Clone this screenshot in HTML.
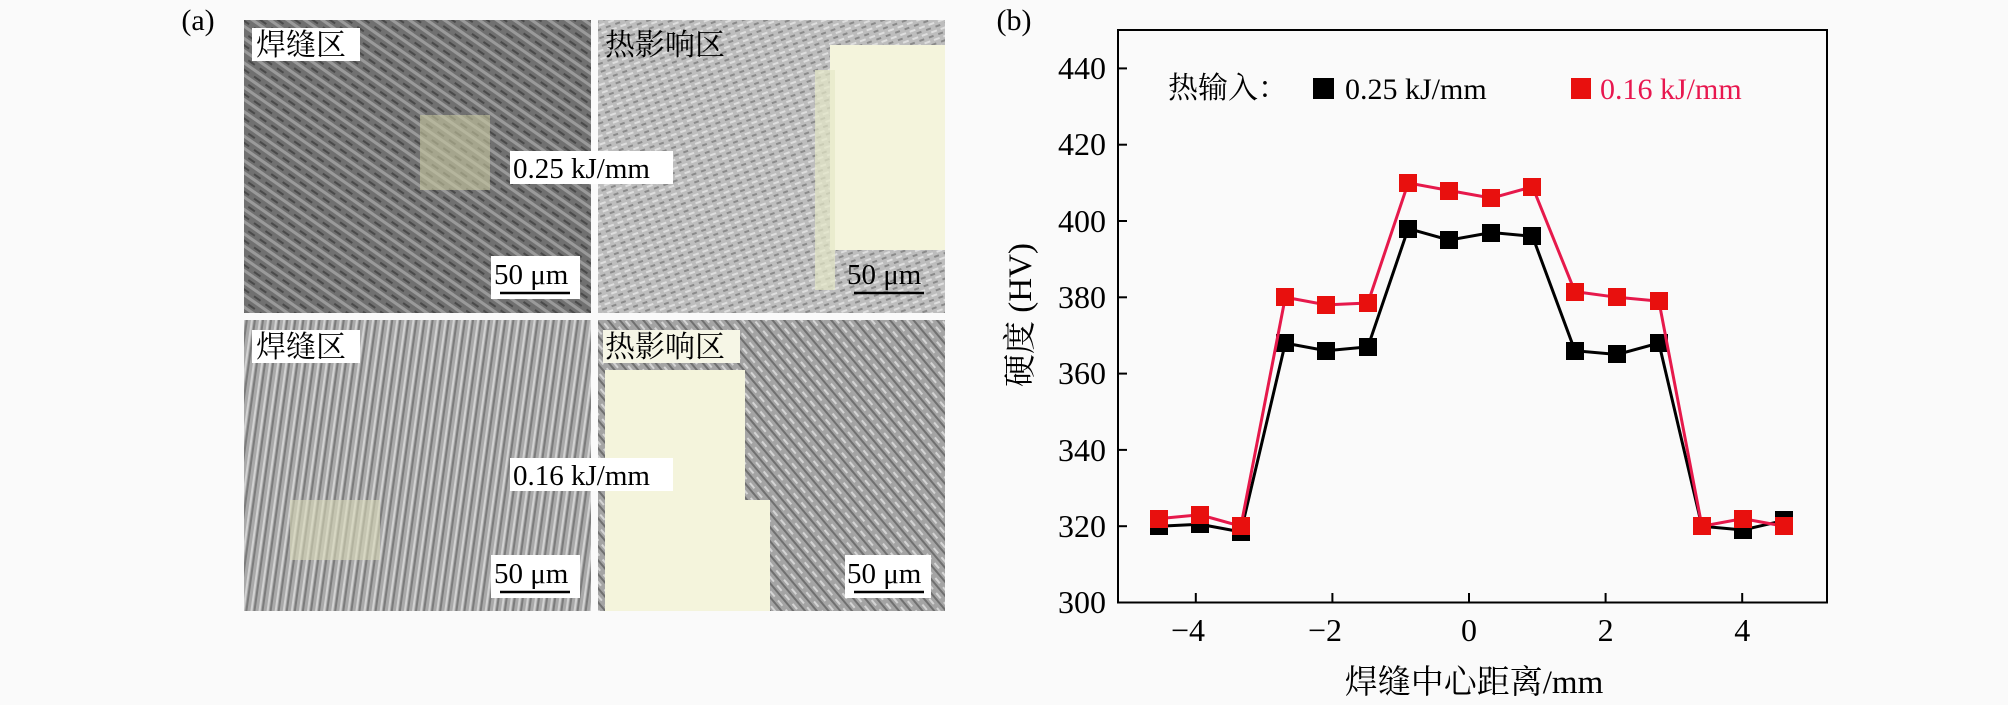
<!DOCTYPE html>
<html><head><meta charset="utf-8"><style>
html,body{margin:0;padding:0;background:#fafafa;}
svg{display:block;}
text{font-family:"Liberation Serif","Noto Serif CJK SC",serif;}
</style></head><body>
<svg width="2008" height="705" viewBox="0 0 2008 705" xmlns="http://www.w3.org/2000/svg">
<defs>
<pattern id="tex1" width="14" height="10" patternUnits="userSpaceOnUse" patternTransform="rotate(35)">
<rect width="14" height="10" fill="#707070"/><rect y="0" width="14" height="3" fill="#9a9a9a"/><rect y="6" width="8" height="2" fill="#4a4a4a"/></pattern>
<pattern id="tex2" width="10" height="8" patternUnits="userSpaceOnUse" patternTransform="rotate(-20)">
<rect width="10" height="8" fill="#bdbdbd"/><rect width="5" height="2" fill="#8a8a8a"/><rect x="4" y="4" width="6" height="2" fill="#dedede"/></pattern>
<pattern id="tex3" width="8" height="16" patternUnits="userSpaceOnUse" patternTransform="rotate(8)">
<rect width="8" height="16" fill="#a9a9a9"/><rect width="2" height="16" fill="#7c7c7c"/><rect x="5" width="2" height="16" fill="#d2d2d2"/></pattern>
<pattern id="tex4" width="12" height="9" patternUnits="userSpaceOnUse" patternTransform="rotate(50)">
<rect width="12" height="9" fill="#a4a4a4"/><rect width="12" height="2" fill="#707070"/><rect y="5" width="7" height="2" fill="#d4d4d4"/></pattern>
</defs>
<!-- panel a -->
<text x="198" y="30" font-size="30" text-anchor="middle">(a)</text>
<rect x="244" y="20" width="347" height="293" fill="url(#tex1)"/>
<rect x="598" y="20" width="347" height="293" fill="url(#tex2)"/>
<rect x="830" y="45" width="115" height="205" fill="#f4f4dc"/>
<rect x="815" y="70" width="20" height="220" fill="#e6e8c8" opacity="0.7"/>
<rect x="244" y="320" width="347" height="291" fill="url(#tex3)"/>
<rect x="598" y="320" width="347" height="291" fill="url(#tex4)"/>
<path d="M605 370 H745 V500 H770 V611 H605 Z" fill="#f4f4dc"/>
<rect x="420" y="115" width="70" height="75" fill="#c8c8a0" opacity="0.6"/>
<rect x="290" y="500" width="90" height="60" fill="#d8d8b8" opacity="0.6"/>
<!-- labels -->
<rect x="252" y="28" width="108" height="33" fill="#fff"/><text x="256" y="55" font-size="30">焊缝区</text>
<text x="605" y="55" font-size="30">热影响区</text>
<rect x="510" y="151" width="163" height="33" fill="#fff"/><text x="513" y="178" font-size="29">0.25 kJ/mm</text>
<rect x="491" y="256" width="89" height="43" fill="#fff"/><text x="494" y="284" font-size="29">50 μm</text><line x1="500" y1="293" x2="570" y2="293" stroke="#000" stroke-width="2.5"/>
<text x="847" y="284" font-size="29">50 μm</text><line x1="854" y1="293" x2="924" y2="293" stroke="#000" stroke-width="2.5"/>
<rect x="252" y="330" width="108" height="33" fill="#fff"/><text x="256" y="357" font-size="30">焊缝区</text>
<rect x="603" y="330" width="137" height="33" fill="#f6f6e6"/><text x="605" y="357" font-size="30">热影响区</text>
<rect x="510" y="458" width="163" height="33" fill="#fff"/><text x="513" y="485" font-size="29">0.16 kJ/mm</text>
<rect x="491" y="555" width="89" height="43" fill="#fff"/><text x="494" y="583" font-size="29">50 μm</text><line x1="500" y1="592" x2="570" y2="592" stroke="#000" stroke-width="2.5"/>
<rect x="845" y="555" width="86" height="43" fill="#fff"/><text x="847" y="583" font-size="29">50 μm</text><line x1="854" y1="592" x2="924" y2="592" stroke="#000" stroke-width="2.5"/>
<!-- panel b -->
<text x="1014" y="30" font-size="30" text-anchor="middle">(b)</text>
<rect x="1118" y="30" width="709" height="572.5" fill="none" stroke="#000" stroke-width="2"/>
<g stroke="#000" stroke-width="2">
<line x1="1118" y1="68.4" x2="1127" y2="68.4"/><line x1="1118" y1="144.7" x2="1127" y2="144.7"/><line x1="1118" y1="221" x2="1127" y2="221"/><line x1="1118" y1="297.3" x2="1127" y2="297.3"/><line x1="1118" y1="373.6" x2="1127" y2="373.6"/><line x1="1118" y1="449.9" x2="1127" y2="449.9"/><line x1="1118" y1="526.2" x2="1127" y2="526.2"/>
<line x1="1195.8" y1="602.5" x2="1195.8" y2="593"/><line x1="1332.4" y1="602.5" x2="1332.4" y2="593"/><line x1="1469" y1="602.5" x2="1469" y2="593"/><line x1="1605.6" y1="602.5" x2="1605.6" y2="593"/><line x1="1742.2" y1="602.5" x2="1742.2" y2="593"/>
</g>
<g font-size="32" text-anchor="end">
<text x="1106" y="79">440</text><text x="1106" y="155">420</text><text x="1106" y="232">400</text><text x="1106" y="308">380</text><text x="1106" y="384">360</text><text x="1106" y="461">340</text><text x="1106" y="537">320</text><text x="1106" y="613">300</text>
</g>
<g font-size="32" text-anchor="middle">
<text x="1188" y="641">−4</text><text x="1325" y="641">−2</text><text x="1469" y="641">0</text><text x="1605.6" y="641">2</text><text x="1742.2" y="641">4</text>
<text x="1474" y="693" font-size="33">焊缝中心距离/mm</text>
</g>
<text transform="translate(1031,315) rotate(-90)" font-size="33" text-anchor="middle">硬度 (HV)</text>
<!-- legend -->
<text x="1168" y="98" font-size="30">热输入：</text>
<rect x="1313" y="78" width="21" height="21" fill="#000"/>
<text x="1345" y="99" font-size="30">0.25 kJ/mm</text>
<rect x="1571" y="78" width="20" height="21" fill="#e8100e"/>
<text x="1600" y="99" font-size="30" fill="#e8174f">0.16 kJ/mm</text>
<!-- series -->
<polyline fill="none" stroke="#000" stroke-width="3" points="1158.9,526.2 1199.9,524.3 1240.9,531.9 1285.3,343.1 1326.3,350.7 1367.9,346.9 1408.2,228.6 1449.2,240.1 1491.5,232.5 1532.5,236.3 1574.9,350.7 1617.2,354.5 1658.9,343.1 1701.9,526.2 1742.9,530 1783.9,520.5"/>
<g fill="#000">
<rect x="1150" y="517" width="18" height="18"/><rect x="1191" y="515" width="18" height="18"/><rect x="1232" y="523" width="18" height="18"/><rect x="1276" y="334" width="18" height="18"/><rect x="1317" y="342" width="18" height="18"/><rect x="1359" y="338" width="18" height="18"/><rect x="1399" y="220" width="18" height="18"/><rect x="1440" y="231" width="18" height="18"/><rect x="1482" y="224" width="18" height="18"/><rect x="1523" y="227" width="18" height="18"/><rect x="1566" y="342" width="18" height="18"/><rect x="1608" y="345" width="18" height="18"/><rect x="1650" y="334" width="18" height="18"/><rect x="1693" y="517" width="18" height="18"/><rect x="1734" y="521" width="18" height="18"/><rect x="1775" y="511" width="18" height="18"/>
</g>
<polyline fill="none" stroke="#e6194b" stroke-width="3" points="1158.9,518.6 1199.9,514.8 1240.9,526.2 1285.3,297.3 1326.3,304.9 1367.9,303 1408.2,182.9 1449.2,190.5 1491.5,198.1 1532.5,186.7 1574.9,291.6 1617.2,297.3 1658.9,301.1 1701.9,526.2 1742.9,518.6 1783.9,526.2"/>
<g fill="#e8100e">
<rect x="1150" y="510" width="18" height="18"/><rect x="1191" y="506" width="18" height="18"/><rect x="1232" y="517" width="18" height="18"/><rect x="1276" y="288" width="18" height="18"/><rect x="1317" y="296" width="18" height="18"/><rect x="1359" y="294" width="18" height="18"/><rect x="1399" y="174" width="18" height="18"/><rect x="1440" y="182" width="18" height="18"/><rect x="1482" y="189" width="18" height="18"/><rect x="1523" y="178" width="18" height="18"/><rect x="1566" y="283" width="18" height="18"/><rect x="1608" y="288" width="18" height="18"/><rect x="1650" y="292" width="18" height="18"/><rect x="1693" y="517" width="18" height="18"/><rect x="1734" y="510" width="18" height="18"/><rect x="1775" y="517" width="18" height="18"/>
</g>
</svg>
</body></html>
